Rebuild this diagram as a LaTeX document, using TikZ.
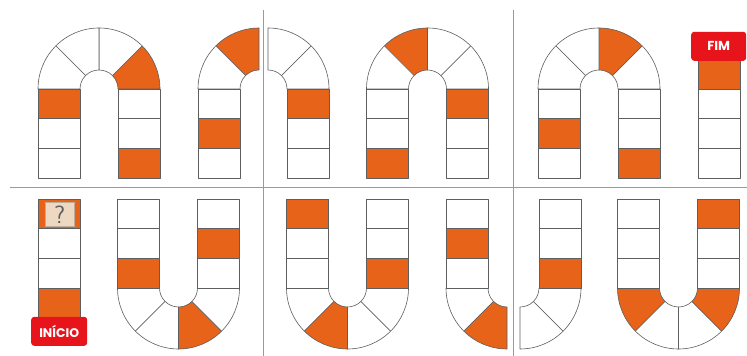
\documentclass[tikz,border=0pt]{standalone}
\usepackage{fontspec}
\newfontfamily\lblfont{Poppins}
\begin{document}
\begin{tikzpicture}[x=1pt,y=1pt]
\definecolor{og}{HTML}{E8631A}
\definecolor{lbl}{HTML}{E8141C}
\definecolor{beige}{HTML}{EDD8C2}
\definecolor{outl}{HTML}{5E5E5E}
\definecolor{divc}{HTML}{9A9A9A}
\tikzset{
  piece/.style={draw=outl, line width=0.6pt, line join=round},
  divline/.style={draw=divc, line width=1pt},
  tag/.style={fill=lbl, rounded corners=3pt, draw=none},
  tagtext/.style={text=white, font=\lblfont\bfseries\fontsize{13}{15}\selectfont, inner sep=0pt}
}
\def\Rin{19}
\def\Rout{61}
\def\ch{29.7}
% sector: cx, cy, start, end, fill
\newcommand{\sect}[5]{%
  \filldraw[piece, fill=#5] ([shift={(#1,#2)}]#3:\Rin) -- ([shift={(#1,#2)}]#3:\Rout)
    arc[start angle=#3, end angle=#4, radius=\Rout] -- ([shift={(#1,#2)}]#4:\Rin)
    arc[start angle=#4, end angle=#3, radius=\Rin] -- cycle;}
% cell: x, ybottom, fill
\newcommand{\cellbox}[3]{%
  \filldraw[piece, fill=#3] (#1,#2) rectangle ++(42,\ch);}
\useasboundingbox (0,0) rectangle (747,356);
\fill[white] (0,0) rectangle (747,356);
% dividers
\draw[divline] (10,168) -- (747,168);
\draw[divline] (263,346) -- (263,0);
\draw[divline] (513,346) -- (513,0);
% ---------- top row (center y 267), rows at 237.3, 207.6, 177.9
% A1
\sect{99}{267}{0}{45}{og}\sect{99}{267}{45}{90}{white}\sect{99}{267}{90}{135}{white}\sect{99}{267}{135}{180}{white}
\cellbox{38}{237.3}{og}\cellbox{38}{207.6}{white}\cellbox{38}{177.9}{white}
\cellbox{118}{237.3}{white}\cellbox{118}{207.6}{white}\cellbox{118}{177.9}{og}
% A2
\sect{259}{267}{90}{135}{og}\sect{259}{267}{135}{180}{white}
\cellbox{198}{237.3}{white}\cellbox{198}{207.6}{og}\cellbox{198}{177.9}{white}
% A3
\sect{268}{267}{0}{45}{white}\sect{268}{267}{45}{90}{white}
\cellbox{287}{237.3}{og}\cellbox{287}{207.6}{white}\cellbox{287}{177.9}{white}
% A4
\sect{427.5}{267}{0}{45}{white}\sect{427.5}{267}{45}{90}{white}\sect{427.5}{267}{90}{135}{og}\sect{427.5}{267}{135}{180}{white}
\cellbox{366.5}{237.3}{white}\cellbox{366.5}{207.6}{white}\cellbox{366.5}{177.9}{og}
\cellbox{446.5}{237.3}{og}\cellbox{446.5}{207.6}{white}\cellbox{446.5}{177.9}{white}
% A5
\sect{599}{267}{0}{45}{white}\sect{599}{267}{45}{90}{og}\sect{599}{267}{90}{135}{white}\sect{599}{267}{135}{180}{white}
\cellbox{538}{237.3}{white}\cellbox{538}{207.6}{og}\cellbox{538}{177.9}{white}
\cellbox{618}{237.3}{white}\cellbox{618}{207.6}{white}\cellbox{618}{177.9}{og}
% FIM column
\cellbox{698}{267}{og}\cellbox{698}{237.3}{white}\cellbox{698}{207.6}{white}\cellbox{698}{177.9}{white}
\node[tag, minimum width=55pt, minimum height=29pt, anchor=south west] (fimbox) at (691,295) {};
\node[tagtext] (fim) at (fimbox.center) {FIM};
% ---------- bottom row (center y 68), rows bottoms at 68, 97.7, 127.4
% INICIO column
\cellbox{38}{127.4}{og}\cellbox{38}{97.7}{white}\cellbox{38}{68}{white}\cellbox{38}{38.3}{og}
\node[fill=beige, draw=beige!80!black, line width=0.3pt, minimum width=29pt, minimum height=24pt, inner sep=0pt, anchor=south west] (qbox) at (45,129.5) {};
\node[text=outl, inner sep=0pt, font=\sffamily\fontsize{25}{26}\selectfont] (q) at (qbox.center) {?};
\node[tag, minimum width=56pt, minimum height=29pt, anchor=south west] (iniciobox) at (31,10) {};
\node[tagtext, font=\lblfont\bfseries\fontsize{12.5}{14}\selectfont] (inicio) at (iniciobox.center) {INÍCIO};
% B1
\sect{178.5}{68}{180}{225}{white}\sect{178.5}{68}{225}{270}{white}\sect{178.5}{68}{270}{315}{og}\sect{178.5}{68}{315}{360}{white}
\cellbox{117.5}{127.4}{white}\cellbox{117.5}{97.7}{white}\cellbox{117.5}{68}{og}
\cellbox{197.5}{127.4}{white}\cellbox{197.5}{97.7}{og}\cellbox{197.5}{68}{white}
% B2
\sect{347.5}{68}{180}{225}{white}\sect{347.5}{68}{225}{270}{og}\sect{347.5}{68}{270}{315}{white}\sect{347.5}{68}{315}{360}{white}
\cellbox{286.5}{127.4}{og}\cellbox{286.5}{97.7}{white}\cellbox{286.5}{68}{white}
\cellbox{366.5}{127.4}{white}\cellbox{366.5}{97.7}{white}\cellbox{366.5}{68}{og}
% B3
\sect{507}{68}{180}{225}{white}\sect{507}{68}{225}{270}{og}
\cellbox{446}{127.4}{white}\cellbox{446}{97.7}{og}\cellbox{446}{68}{white}
% B4
\sect{520}{68}{270}{315}{white}\sect{520}{68}{315}{360}{white}
\cellbox{539}{127.4}{white}\cellbox{539}{97.7}{white}\cellbox{539}{68}{og}
% B5
\sect{678.5}{68}{180}{225}{og}\sect{678.5}{68}{225}{270}{white}\sect{678.5}{68}{270}{315}{white}\sect{678.5}{68}{315}{360}{og}
\cellbox{617.5}{127.4}{white}\cellbox{617.5}{97.7}{white}\cellbox{617.5}{68}{white}
\cellbox{697.5}{127.4}{og}\cellbox{697.5}{97.7}{white}\cellbox{697.5}{68}{white}
\end{tikzpicture}
\end{document}
